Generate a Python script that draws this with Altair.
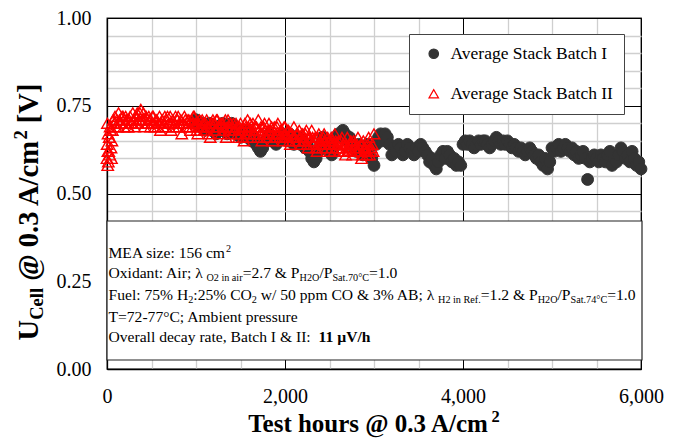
import altair as alt
import pandas as pd

# ---------------- data ----------------
series_names = ["Average Stack Batch I", "Average Stack Batch II"]

batch1_hours = list(range(1000, 6001, 25))
batch1_volts = [
    0.71, 0.70, 0.69, 0.70, 0.68, 0.69, 0.70, 0.68,
    0.69, 0.67, 0.68, 0.69, 0.70, 0.68, 0.67, 0.69,
    0.70, 0.69, 0.67, 0.68, 0.66, 0.67, 0.68, 0.66,
    0.67, 0.65, 0.66, 0.64, 0.63, 0.62, 0.63, 0.65,
    0.66, 0.67, 0.65, 0.66, 0.64, 0.65, 0.66, 0.67,
    0.66, 0.65, 0.67, 0.66, 0.64, 0.65, 0.66, 0.64,
    0.65, 0.63, 0.64, 0.62, 0.60, 0.59, 0.60, 0.62,
    0.64, 0.66, 0.65, 0.63, 0.62, 0.61, 0.63, 0.66,
    0.67, 0.66, 0.68, 0.67, 0.65, 0.66, 0.64, 0.63,
    0.62, 0.64, 0.63, 0.61, 0.62, 0.64, 0.63, 0.60,
    0.58, 0.64, 0.66, 0.67, 0.65, 0.67, 0.66, 0.64,
    0.61, 0.63, 0.62, 0.64, 0.63, 0.61, 0.62, 0.64,
    0.63, 0.62, 0.61, 0.63, 0.62, 0.64, 0.63, 0.62,
    0.61, 0.59, 0.60, 0.58, 0.57, 0.59, 0.61, 0.62,
    0.60, 0.62, 0.61, 0.59, 0.60, 0.58, 0.59, 0.58,
    0.64, 0.65, 0.64, 0.65, 0.64, 0.63, 0.64, 0.65,
    0.64, 0.65, 0.65, 0.64, 0.63, 0.64, 0.65, 0.66,
    0.65, 0.64, 0.65, 0.64, 0.65, 0.64, 0.63, 0.64,
    0.63, 0.62, 0.63, 0.62, 0.61, 0.62, 0.63, 0.62,
    0.61, 0.60, 0.61, 0.59, 0.58, 0.60, 0.57, 0.59,
    0.63, 0.62, 0.63, 0.64, 0.62, 0.63, 0.64, 0.63,
    0.62, 0.63, 0.61, 0.62, 0.60, 0.61, 0.62, 0.60,
    0.54, 0.59, 0.60, 0.61, 0.60, 0.59, 0.61, 0.60,
    0.59, 0.61, 0.62, 0.58, 0.60, 0.59, 0.61, 0.63,
    0.62, 0.60, 0.61, 0.59, 0.62, 0.60, 0.58, 0.59,
    0.57,
]

batch2_hours_a = [0, 5, 10, 15, 25, 30, 35, 45, 50, 55] + list(range(60, 3001, 20))
batch2_volts_a = [
    0.60, 0.70, 0.62, 0.59, 0.66, 0.61, 0.69, 0.63, 0.60, 0.65,
    0.68, 0.70,
    0.69, 0.69, 0.71, 0.70, 0.72,
    0.70, 0.71, 0.69, 0.72, 0.70,
    0.71, 0.70, 0.73, 0.71, 0.74,
    0.71, 0.69, 0.72, 0.70, 0.71,
    0.70, 0.72, 0.69, 0.71, 0.70,
    0.68, 0.71, 0.70, 0.69, 0.72,
    0.70, 0.68, 0.71, 0.70, 0.69,
    0.72, 0.70, 0.67, 0.70, 0.71,
    0.69, 0.71, 0.68, 0.70, 0.72,
    0.70, 0.67, 0.71, 0.69, 0.70,
    0.68, 0.71, 0.69, 0.66, 0.70,
    0.70, 0.68, 0.71, 0.69, 0.67,
    0.70, 0.68, 0.66, 0.71, 0.69,
    0.67, 0.70, 0.68, 0.69, 0.66,
    0.70, 0.68, 0.65, 0.69, 0.71,
    0.68, 0.66, 0.70, 0.67, 0.69,
    0.71, 0.67, 0.65, 0.69, 0.68,
    0.66, 0.70, 0.68, 0.65, 0.69,
    0.67, 0.70, 0.66, 0.68, 0.65,
    0.69, 0.66, 0.68, 0.64, 0.67,
    0.69, 0.65, 0.67, 0.68, 0.64,
    0.67, 0.65, 0.68, 0.63, 0.66,
    0.68, 0.64, 0.66, 0.62, 0.67,
    0.65, 0.63, 0.67, 0.64, 0.66,
    0.62, 0.66, 0.64, 0.67, 0.63,
    0.65, 0.62, 0.66, 0.64, 0.61,
    0.66, 0.63, 0.65, 0.61, 0.64,
    0.62, 0.66, 0.63, 0.60, 0.65,
    0.63, 0.61, 0.66, 0.62, 0.64,
    0.67,
]
batch2_hours_b = [2, 8, 12, 20, 40] + list(range(70, 2991, 20))
batch2_volts_b = [
    0.64, 0.58, 0.67, 0.62, 0.68,
    0.71, 0.72,
    0.71, 0.73, 0.70, 0.72, 0.69,
    0.72, 0.69, 0.71, 0.70, 0.73,
    0.69, 0.72, 0.70, 0.73, 0.71,
    0.73, 0.71, 0.70, 0.72, 0.69,
    0.72, 0.70, 0.71, 0.69, 0.72,
    0.70, 0.69, 0.72, 0.71, 0.70,
    0.72, 0.70, 0.69, 0.72, 0.71,
    0.69, 0.71, 0.70, 0.72, 0.69,
    0.71, 0.69, 0.71, 0.72, 0.70,
    0.68, 0.70, 0.69, 0.71, 0.68,
    0.70, 0.69, 0.67, 0.70, 0.71,
    0.68, 0.71, 0.69, 0.70, 0.70,
    0.69, 0.71, 0.69, 0.68, 0.70,
    0.69, 0.68, 0.70, 0.67, 0.69,
    0.68, 0.66, 0.70, 0.67, 0.69,
    0.70, 0.68, 0.67, 0.69, 0.66,
    0.68, 0.69, 0.67, 0.70, 0.66,
    0.68, 0.67, 0.69, 0.67, 0.66,
    0.69, 0.67, 0.68, 0.66, 0.69,
    0.67, 0.68, 0.65, 0.67, 0.66,
    0.66, 0.67, 0.65, 0.66, 0.67,
    0.65, 0.67, 0.64, 0.66, 0.65,
    0.66, 0.65, 0.63, 0.66, 0.64,
    0.64, 0.66, 0.65, 0.63, 0.65,
    0.64, 0.65, 0.62, 0.65, 0.64,
    0.63, 0.65, 0.63, 0.62, 0.64,
    0.62, 0.64, 0.62, 0.65, 0.63,
    0.64, 0.62, 0.64, 0.61, 0.63,
    0.62, 0.64, 0.61, 0.63, 0.62,
]
assert len(batch1_hours) == len(batch1_volts)
assert len(batch2_hours_a) == len(batch2_volts_a)
assert len(batch2_hours_b) == len(batch2_volts_b)

x_grid_values = list(range(0, 6001, 500))
y_grid_values = [round(i * 0.05, 2) for i in range(21)]

note_lines = [
    [("MEA size: 156 cm", "n"), ("2", "sup")],
    [("Oxidant: Air; \u03bb", "n"), (" O2 in air", "sub"), ("=2.7 & P", "n"), ("H2O", "sub"),
     ("/P", "n"), ("Sat.70\u00b0C", "sub"), ("=1.0", "n")],
    [("Fuel: 75% H", "n"), ("2", "sub"), (":25% CO", "n"), ("2", "sub"),
     (" w/ 50 ppm CO & 3% AB; \u03bb", "n"), (" H2 in Ref.", "sub"), ("=1.2 & P", "n"),
     ("H2O", "sub"), ("/P", "n"), ("Sat.74\u00b0C", "sub"), ("=1.0", "n")],
    [("T=72-77\u00b0C; Ambient pressure", "n")],
    [("Overall decay rate, Batch I & II:  ", "n"), ("11 \u00b5V/h", "b")],
]
y_title_parts = [("U", "Y"), ("Cell", "Ysub"), (" @ 0.3 A/cm", "Y"), ("2", "Ysup"), (" [V]", "Y")]
x_title_parts = [("Test hours @ 0.3 A/cm", "T"), ("2", "Tsup")]

# ---------------- layout helpers ----------------
W, H = 534, 351
SERIF = "Liberation Serif"

REG = {' ': 250, '!': 333, '%': 833, '&': 778, ',': 250, '-': 333, '.': 250, '/': 278,
       ':': 278, ';': 278, '=': 564, '@': 921, '[': 333, ']': 333,
       'A': 722, 'B': 667, 'C': 667, 'D': 722, 'E': 611, 'F': 556, 'H': 722, 'I': 333,
       'M': 889, 'O': 722, 'P': 556, 'R': 667, 'S': 556, 'T': 611, 'U': 722, 'V': 722,
       'a': 444, 'b': 500, 'c': 444, 'd': 500, 'e': 444, 'f': 333, 'g': 500, 'h': 500,
       'i': 278, 'k': 500, 'l': 278, 'm': 778, 'n': 500, 'o': 500, 'p': 500, 'r': 333,
       's': 389, 't': 278, 'u': 500, 'v': 500, 'w': 722, 'x': 500, 'y': 500, 'z': 444,
       '\u03bb': 500, '\u00b5': 500, '\u00b0': 400}
BOLD = {' ': 250, '.': 250, '/': 278, '@': 930, '[': 333, ']': 333,
        'A': 722, 'C': 722, 'T': 667, 'U': 722, 'V': 722,
        'a': 500, 'c': 444, 'e': 444, 'h': 556, 'l': 278, 'm': 833, 'o': 500, 'r': 444,
        's': 389, 't': 333, 'u': 556, '\u00b5': 556}

STYLES = {
    "n":    dict(size=15.6, bold=False, shift=0),
    "sub":  dict(size=10.2, bold=False, shift=3),
    "sup":  dict(size=10.2, bold=False, shift=-6),
    "b":    dict(size=15.6, bold=True, shift=0),
    "T":    dict(size=25.0, bold=True, shift=0),
    "Tsub": dict(size=16.5, bold=True, shift=5),
    "Tsup": dict(size=16.5, bold=True, shift=-10),
    "Y":    dict(size=28.5, bold=True, shift=0),
    "Ysub": dict(size=18.5, bold=True, shift=5),
    "Ysup": dict(size=18.5, bold=True, shift=-11),
}


def tw(s, style):
    st = STYLES[style]
    table = BOLD if st["bold"] else REG
    return sum(table.get(c, 500) for c in s) * st["size"] / 1000.0


def to_data(px, py):
    return px * 6000.0 / W, 1.0 - py / H


rows = []  # text, hx, vy, style, angle

# note box lines (pixel offsets relative to plot origin)
baselines = [240, 260, 282, 304, 324]
for parts, base in zip(note_lines, baselines):
    cur = 1.5
    for text, style in parts:
        lead = len(text) - len(text.lstrip(" "))
        xdraw = cur + tw(" " * lead, style)
        hx, vy = to_data(xdraw, base + STYLES[style]["shift"])
        if text.strip():
            rows.append(dict(text=text.strip(), hx=hx, vy=vy, style=style, angle=0))
        cur += tw(text, style)

# x axis title, centered
xt_total = sum(tw(t, s) for t, s in x_title_parts)
cur = W / 2 - xt_total / 2
for text, style in x_title_parts:
    lead = len(text) - len(text.lstrip(" "))
    xdraw = cur + tw(" " * lead, style)
    hx, vy = to_data(xdraw, 414 + STYLES[style]["shift"])
    rows.append(dict(text=text.strip(), hx=hx, vy=vy, style=style, angle=0))
    cur += tw(text, style)

# y axis title, rotated (reads bottom to top)
yt_total = sum(tw(t, s) for t, s in y_title_parts)
cur = 194 + yt_total / 2
for text, style in y_title_parts:
    lead = len(text) - len(text.lstrip(" "))
    ydraw = cur - tw(" " * lead, style)
    hx, vy = to_data(-69 + STYLES[style]["shift"], ydraw)
    rows.append(dict(text=text.strip(), hx=hx, vy=vy, style=style, angle=270))
    cur -= tw(text, style)

text_df = pd.DataFrame(rows)

# ---------------- scales & axes ----------------
xs = alt.Scale(domain=[0, 6000], nice=False, zero=False)
ys = alt.Scale(domain=[0, 1], nice=False, zero=False)

xaxis = alt.Axis(
    values=x_grid_values, title=None, ticks=False, grid=True,
    gridColor={"condition": {"test": "datum.value % 2000 === 0", "value": "#000000"}, "value": "#cfcfcf"},
    gridWidth={"condition": {"test": "datum.value % 2000 === 0", "value": 1}, "value": 1.3},
    gridOpacity=1,
    labelExpr="datum.value % 2000 === 0 ? format(datum.value, ',') : ''",
    labelFont=SERIF, labelFontSize=20, labelColor="black", labelPadding=17,
    labelOverlap=False, labelFlush=False,
    domainColor="black", domainWidth=1.3,
)
ytest = "abs(datum.value * 4 - round(datum.value * 4)) < 0.001"
yaxis = alt.Axis(
    values=y_grid_values, title=None, ticks=False, grid=True,
    gridColor={"condition": {"test": ytest, "value": "#000000"}, "value": "#cfcfcf"},
    gridWidth={"condition": {"test": ytest, "value": 1}, "value": 1.3},
    gridOpacity=1,
    labelExpr=ytest + " ? format(datum.value, '.2f') : ''",
    labelFont=SERIF, labelFontSize=20, labelColor="black", labelPadding=16,
    labelOverlap=False, labelFlush=False,
    domainColor="black", domainWidth=1.3,
)


def X(field):
    return alt.X(f"{field}:Q", scale=xs, axis=xaxis)


def Y(field):
    return alt.Y(f"{field}:Q", scale=ys, axis=yaxis)


# ---------------- chart ----------------
df1 = pd.DataFrame({"hours": batch1_hours, "volts": batch1_volts, "series": series_names[0]})
df2 = pd.DataFrame({"hours": batch2_hours_a + batch2_hours_b,
                    "volts": batch2_volts_a + batch2_volts_b, "series": series_names[1]})

legend = alt.Legend(
    title=None, orient="none", legendX=302, legendY=16, direction="vertical",
    fillColor="white", strokeColor="#444444", padding=11, rowPadding=21,
    symbolOffset=5, labelOffset=8, symbolStrokeWidth=1.2, symbolSize=90,
    labelFont=SERIF, labelFontSize=17.5, labelColor="black", labelLimit=0,
)
shape_s = alt.Scale(domain=series_names, range=["circle", "triangle-up"])
fill_s = alt.Scale(domain=series_names, range=["#333333", "transparent"])
stroke_s = alt.Scale(domain=series_names, range=["#333333", "#ff0000"])


def series_layer(frame, size, sw):
    return alt.Chart(frame).mark_point(filled=False, opacity=1, strokeWidth=sw, size=size).encode(
        x=X("hours"),
        y=Y("volts"),
        shape=alt.Shape("series:N", scale=shape_s, legend=legend),
        fill=alt.Fill("series:N", scale=fill_s, legend=legend),
        stroke=alt.Stroke("series:N", scale=stroke_s, legend=legend),
    )


layer1 = series_layer(df1, 140, 1.0)
layer2 = series_layer(df2, 130, 1.4)

# light drop shadow behind the legend frame (Excel style)
shadow = alt.Chart(pd.DataFrame({"k": [0]})).mark_rect(fill="#9a9a9a").encode(
    x=alt.value(305), x2=alt.value(517), y=alt.value(19), y2=alt.value(97)
)

box = alt.Chart(pd.DataFrame({"k": [0]})).mark_rect(
    fill="white", stroke="#222222", strokeWidth=1.2
).encode(x=alt.value(0), x2=alt.value(W + 1), y=alt.value(203), y2=alt.value(342))

layers = [layer1, layer2, shadow, box]
for style, sub in text_df.groupby("style", sort=False):
    for angle, sub2 in sub.groupby("angle"):
        st = STYLES[style]
        mark_kwargs = dict(font=SERIF, fontSize=st["size"], fontWeight="bold" if st["bold"] else "normal",
                           align="left", baseline="alphabetic", color="black")
        if angle:
            mark_kwargs["angle"] = int(angle)
        layers.append(
            alt.Chart(sub2.reset_index(drop=True)).mark_text(**mark_kwargs).encode(
                x=X("hx"), y=Y("vy"), text="text:N"
            )
        )

chart = alt.layer(*layers).properties(
    width=W, height=H,
    autosize=alt.AutoSizeParams(type="none"),
    padding={"left": 99, "top": 10, "right": 27, "bottom": 69},
    background="white",
).configure_view(stroke="#222222", strokeWidth=1.3)

chart.save("out.html", embed_options={"renderer": "svg", "actions": False})
